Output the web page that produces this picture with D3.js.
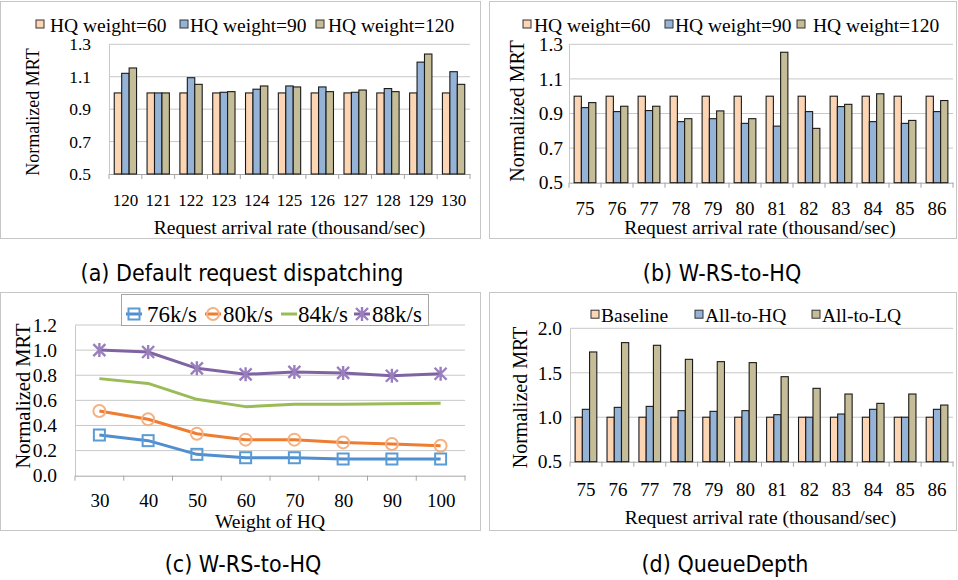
<!DOCTYPE html>
<html>
<head>
<meta charset="utf-8">
<script src="https://cdn.jsdelivr.net/npm/d3@7"></script>
<style>
  body { margin: 0; background: #fff; }
  text { font-family: "Liberation Serif", "Times New Roman", serif; fill: #000; }
  .cap { font-family: "Liberation Sans Narrow", "DejaVu Sans Condensed", sans-serif; }
</style>
</head>
<body>
<svg id="chart" width="958" height="580"></svg>
<script>
// ---- data ----
var aCats = ['120', '121', '122', '123', '124', '125', '126', '127', '128', '129', '130'];
var aW60  = [1.0, 1.0, 1.0, 1.0, 1.0, 1.0, 1.0, 1.0, 1.0, 1.0, 1.0];
var aW90  = [1.121, 1.0, 1.094, 1.004, 1.023, 1.043, 1.037, 1.004, 1.027, 1.19, 1.131];
var aW120 = [1.154, 1.0, 1.053, 1.008, 1.043, 1.037, 1.008, 1.018, 1.008, 1.24, 1.053];
var aTicks = [0.5, 0.7, 0.9, 1.1, 1.3];

var bCats = ['75', '76', '77', '78', '79', '80', '81', '82', '83', '84', '85', '86'];
var bW60  = [1.0, 1.0, 1.0, 1.0, 1.0, 1.0, 1.0, 1.0, 1.0, 1.0, 1.0, 1.0];
var bW90  = [0.934, 0.911, 0.917, 0.853, 0.870, 0.843, 0.827, 0.911, 0.940, 0.853, 0.843, 0.911];
var bW120 = [0.963, 0.942, 0.942, 0.870, 0.915, 0.870, 1.254, 0.814, 0.953, 1.014, 0.860, 0.975];
var bTicks = [0.5, 0.7, 0.9, 1.1, 1.3];

var cCats = ['30', '40', '50', '60', '70', '80', '90', '100'];
var c76 = [0.324, 0.279, 0.170, 0.143, 0.143, 0.133, 0.133, 0.133];
var c80 = [0.515, 0.449, 0.334, 0.287, 0.287, 0.265, 0.252, 0.239];
var c84 = [0.773, 0.735, 0.608, 0.550, 0.568, 0.568, 0.573, 0.576];
var c88 = [1.0, 0.985, 0.855, 0.807, 0.826, 0.818, 0.796, 0.812];
var cTicks = [0, 0.2, 0.4, 0.6, 0.8, 1.0, 1.2];

var dCats = ['75', '76', '77', '78', '79', '80', '81', '82', '83', '84', '85', '86'];
var dBase = [1.0, 1.0, 1.0, 1.0, 1.0, 1.0, 1.0, 1.0, 1.0, 1.0, 1.0, 1.0];
var dHQ   = [1.089, 1.111, 1.122, 1.074, 1.066, 1.074, 1.029, 1.0, 1.036, 1.089, 1.0, 1.089];
var dLQ   = [1.734, 1.839, 1.809, 1.651, 1.625, 1.614, 1.456, 1.325, 1.261, 1.156, 1.261, 1.137];
var dTicks = [0.5, 1.0, 1.5, 2.0];

var peach = '#fcd5b5', blue = '#95b3d7', tan = '#c4bd97';
var gridColor = '#c8c8c8';

var svg = d3.select('#chart');

// panel frames
[[0.5, 1.5, 480, 237], [489.5, 1.5, 467, 237], [0.5, 292.5, 480, 238], [489.5, 292.5, 467, 238]].forEach(function(f) {
    svg.append('rect')
        .attr('x', f[0]).attr('y', f[1]).attr('width', f[2]).attr('height', f[3])
        .attr('fill', 'none').attr('stroke', '#c6c6c6');
});

function frameAxes(g, x, y, cfg) {
    // horizontal gridlines
    g.append('g').selectAll('line')
        .data(cfg.ticks.slice(1))
        .enter().append('line')
        .attr('x1', cfg.x0).attr('x2', cfg.x1)
        .attr('y1', function(d) { return y(d); })
        .attr('y2', function(d) { return y(d); })
        .attr('stroke', gridColor);

    var yAxis = g.append('g')
        .attr('transform', 'translate(' + cfg.x0 + ',0)')
        .call(d3.axisLeft(y).tickValues(cfg.ticks).tickSize(0).tickPadding(cfg.yPad).tickFormat(d3.format('.1f')))
        .attr('font-family', null).attr('font-size', null);
    yAxis.selectAll('text').style('font-size', cfg.tickFont + 'px');
    yAxis.select('.domain').attr('stroke', gridColor);

    var xAxis = g.append('g')
        .attr('transform', 'translate(0,' + cfg.y0 + ')')
        .call(d3.axisBottom(x).tickSize(0).tickPadding(cfg.xPad))
        .attr('font-family', null).attr('font-size', null);
    xAxis.selectAll('text').style('font-size', cfg.catFont + 'px');
    xAxis.select('.domain').attr('stroke', '#a6a6a6');

    // tick marks on the category boundaries
    var step = x.step();
    g.append('g').selectAll('line')
        .data(d3.range(cfg.cats.length + 1))
        .enter().append('line')
        .attr('x1', function(i) { return cfg.x0 + i * step; })
        .attr('x2', function(i) { return cfg.x0 + i * step; })
        .attr('y1', cfg.y0).attr('y2', cfg.y0 + 5)
        .attr('stroke', '#a6a6a6');

    g.append('text')
        .attr('text-anchor', 'middle')
        .attr('x', (cfg.x0 + cfg.x1) / 2 + (cfg.titleDx || 0))
        .attr('y', cfg.xTitleY)
        .style('font-size', cfg.titleFont + 'px')
        .text(cfg.xTitle);

    g.append('text')
        .attr('text-anchor', 'middle')
        .attr('transform', 'translate(' + cfg.yTitleX + ',' + cfg.yTitleY + ') rotate(-90)')
        .attr('dy', '0.35em')
        .style('font-size', cfg.yTitleFont + 'px')
        .text('Normalized MRT');
}

function barPanel(cfg) {
    var g = svg.append('g');
    var x = d3.scaleBand().domain(cfg.cats).range([cfg.x0, cfg.x1]).paddingInner(0.32).paddingOuter(0.16);
    var xs = d3.scaleBand().domain(d3.range(cfg.series.length)).range([0, x.bandwidth()]);
    var y = d3.scaleLinear().domain([cfg.ticks[0], cfg.ticks[cfg.ticks.length - 1]]).range([cfg.y0, cfg.y1]);

    frameAxes(g, x, y, cfg);

    cfg.series.forEach(function(s, si) {
        g.append('g').selectAll('rect')
            .data(s.values)
            .enter().append('rect')
            .attr('x', function(d, i) { return x(cfg.cats[i]) + xs(si); })
            .attr('y', function(d) { return y(d); })
            .attr('width', xs.bandwidth())
            .attr('height', function(d) { return y(cfg.ticks[0]) - y(d); })
            .attr('fill', s.color)
            .attr('stroke', '#1a1a1a')
            .attr('stroke-width', 1.1);
    });

    // legend
    cfg.series.forEach(function(s, si) {
        g.append('rect')
            .attr('x', cfg.legend.box[si]).attr('y', cfg.legend.y - 11.5)
            .attr('width', 8).attr('height', 8)
            .attr('fill', s.color).attr('stroke', '#333');
        g.append('text')
            .attr('x', cfg.legend.text[si]).attr('y', cfg.legend.y)
            .style('font-size', cfg.legend.font + 'px')
            .text(s.name);
    });
}

barPanel({
    cats: aCats, ticks: aTicks, x0: 109, x1: 470, y0: 174, y1: 44.3,
    series: [
        { name: 'HQ weight=60', values: aW60, color: peach },
        { name: 'HQ weight=90', values: aW90, color: blue },
        { name: 'HQ weight=120', values: aW120, color: tan }
    ],
    yPad: 18, xPad: 20, tickFont: 17.5, catFont: 17,
    xTitle: 'Request arrival rate (thousand/sec)', xTitleY: 233.5, titleFont: 19.5, titleDx: 0,
    yTitleX: 33, yTitleY: 112, yTitleFont: 18,
    legend: { box: [36, 180, 316], text: [50, 190, 328], y: 31.5, font: 19.5 }
});

barPanel({
    cats: bCats, ticks: bTicks, x0: 569, x1: 953, y0: 182.7, y1: 44.3,
    series: [
        { name: 'HQ weight=60', values: bW60, color: peach },
        { name: 'HQ weight=90', values: bW90, color: blue },
        { name: 'HQ weight=120', values: bW120, color: tan }
    ],
    yPad: 6, xPad: 18.5, tickFont: 19.5, catFont: 19,
    xTitle: 'Request arrival rate (thousand/sec)', xTitleY: 234, titleFont: 19.5, titleDx: -1,
    yTitleX: 517, yTitleY: 111, yTitleFont: 20,
    legend: { box: [523, 665, 797], text: [534, 675, 813], y: 31.5, font: 19.5 }
});

barPanel({
    cats: dCats, ticks: dTicks, x0: 570, x1: 953, y0: 461.7, y1: 328.3,
    series: [
        { name: 'Baseline', values: dBase, color: peach },
        { name: 'All-to-HQ', values: dHQ, color: blue },
        { name: 'All-to-LQ', values: dLQ, color: tan }
    ],
    yPad: 8, xPad: 21, tickFont: 19.5, catFont: 19,
    xTitle: 'Request arrival rate (thousand/sec)', xTitleY: 524, titleFont: 19.5, titleDx: -1,
    yTitleX: 520, yTitleY: 397.5, yTitleFont: 20,
    legend: { box: [591, 695, 812], text: [601, 705, 822], y: 321.7, font: 19.5 }
});

// ---- panel (c): line chart ----
(function() {
    var cfg = {
        cats: cCats, ticks: cTicks, x0: 75, x1: 465, y0: 475.7, y1: 325,
        yPad: 18, xPad: 18, tickFont: 19.5, catFont: 19,
        xTitle: 'Weight of HQ', xTitleY: 528, titleFont: 19.5, titleDx: 0,
        yTitleX: 23, yTitleY: 396, yTitleFont: 20.5
    };
    var g = svg.append('g');
    var x = d3.scalePoint().domain(cfg.cats).range([cfg.x0, cfg.x1]).padding(0.5);
    var y = d3.scaleLinear().domain([0, 1.2]).range([cfg.y0, cfg.y1]);

    frameAxes(g, x, y, cfg);

    var series = [
        { name: '76k/s', values: c76, color: '#4f8fcf', mark: '#5b9bd5', marker: 'square' },
        { name: '80k/s', values: c80, color: '#ed7d31', mark: '#f4b183', marker: 'circle' },
        { name: '84k/s', values: c84, color: '#9bbb59', mark: null, marker: 'none' },
        { name: '88k/s', values: c88, color: '#8064a2', mark: '#9a7fbf', marker: 'star' }
    ];

    var line = d3.line()
        .x(function(d, i) { return x(cfg.cats[i]); })
        .y(function(d) { return y(d); });

    function drawMarker(sel, s, px, py) {
        if (s.marker === 'square') {
            sel.append('rect').attr('x', px - 5.5).attr('y', py - 5.5).attr('width', 11).attr('height', 11)
                .attr('fill', 'none').attr('stroke', s.mark).attr('stroke-width', 2);
        } else if (s.marker === 'circle') {
            sel.append('circle').attr('cx', px).attr('cy', py).attr('r', 6)
                .attr('fill', 'none').attr('stroke', s.mark).attr('stroke-width', 2);
        } else if (s.marker === 'star') {
            var r = 6;
            sel.append('path')
                .attr('d', 'M' + (px - r) + ',' + (py - r) + 'L' + (px + r) + ',' + (py + r) +
                    'M' + (px - r) + ',' + (py + r) + 'L' + (px + r) + ',' + (py - r) +
                    'M' + px + ',' + (py - r - 1) + 'L' + px + ',' + (py + r + 1))
                .attr('fill', 'none').attr('stroke', s.mark).attr('stroke-width', 2.4);
        }
    }

    series.forEach(function(s) {
        g.append('path')
            .datum(s.values)
            .attr('d', line)
            .attr('fill', 'none')
            .attr('stroke', s.color)
            .attr('stroke-width', 3)
            .attr('stroke-linejoin', 'round');
        var mg = g.append('g');
        s.values.forEach(function(v, i) { drawMarker(mg, s, x(cfg.cats[i]), y(v)); });
    });

    // legend box
    g.append('rect')
        .attr('x', 121.5).attr('y', 294.5).attr('width', 307).attr('height', 31)
        .attr('fill', '#fff').attr('stroke', '#a6a6a6');
    var lx = [134, 213, 289, 362], tx = [147, 223, 298, 372];
    series.forEach(function(s, i) {
        var ly = 314;
        g.append('line')
            .attr('x1', lx[i] - 8).attr('x2', lx[i] + 8).attr('y1', ly).attr('y2', ly)
            .attr('stroke', s.color).attr('stroke-width', 3);
        drawMarker(g, s, lx[i], ly);
        g.append('text')
            .attr('x', tx[i]).attr('y', 322)
            .style('font-size', '23px')
            .text(s.name);
    });
})();

// captions
var captions = [
    { t: '(a) Default request dispatching', x: 242, y: 281 },
    { t: '(b) W-RS-to-HQ', x: 722, y: 281 },
    { t: '(c) W-RS-to-HQ', x: 243, y: 572 },
    { t: '(d) QueueDepth', x: 725, y: 572 }
];
svg.selectAll('.cap')
    .data(captions)
    .enter().append('text')
    .attr('class', 'cap')
    .attr('text-anchor', 'middle')
    .attr('x', function(d) { return d.x; })
    .attr('y', function(d) { return d.y; })
    .style('font-size', '23px')
    .text(function(d) { return d.t; });
</script>
</body>
</html>
